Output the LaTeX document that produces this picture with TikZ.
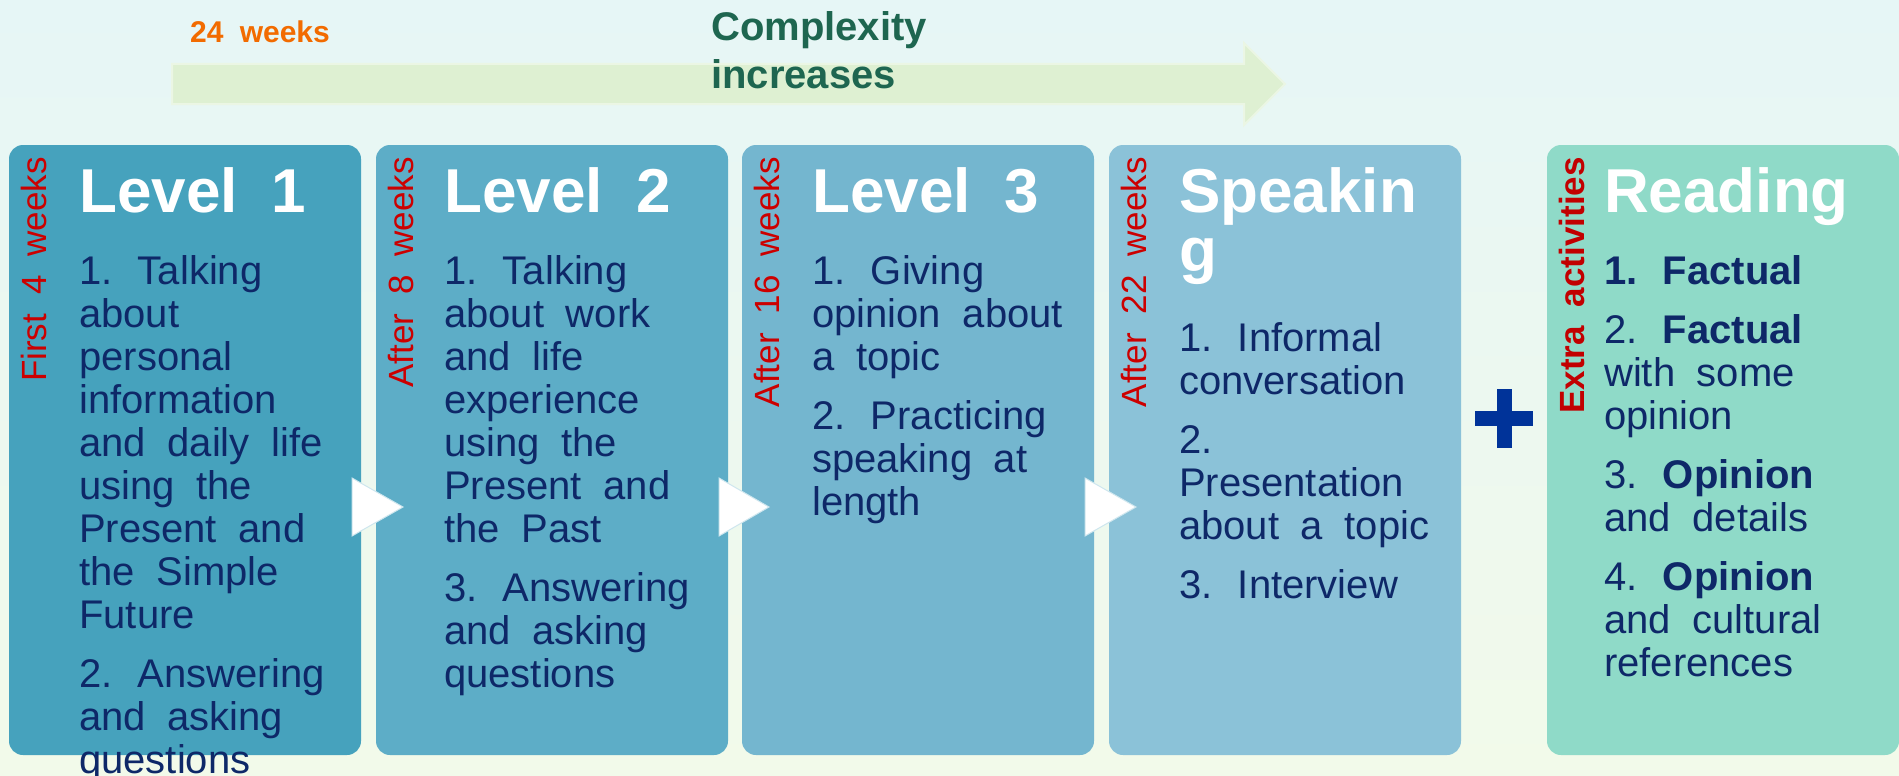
\documentclass[tikz,border=0pt]{standalone}
\usepackage{fontspec}
\setmainfont{Liberation Sans}[WordSpace=1.95]
\usepackage{xcolor}
\usetikzlibrary{positioning,calc}

\definecolor{bgtop}{RGB}{230,246,246}
\definecolor{bgmid}{RGB}{250,253,240}
\definecolor{bgbot}{RGB}{242,250,234}
\definecolor{arrowgreen}{RGB}{222,240,210}
\definecolor{lvlone}{RGB}{70,162,189}
\definecolor{lvltwo}{RGB}{93,173,199}
\definecolor{lvlthree}{RGB}{116,182,207}
\definecolor{lvlfour}{RGB}{139,194,216}
\definecolor{lvlread}{RGB}{143,218,200}
\definecolor{navy}{RGB}{14,40,104}
\definecolor{labred}{RGB}{204,0,0}
\definecolor{weekorange}{RGB}{242,107,0}
\definecolor{complgreen}{RGB}{30,102,80}
\definecolor{plusblue}{RGB}{0,51,153}

\tikzset{
  lvlbox/.style={rounded corners=14pt, minimum width=352pt, minimum height=610pt, inner sep=0pt, outer sep=0pt},
  lvltitle/.style={anchor=base west, text=white, font=\fontsize{62}{59}\selectfont\bfseries, align=left, inner sep=0pt},
  lvlbody/.style={anchor=north west, text=navy, font=\fontsize{40}{43}\selectfont, align=left, inner sep=0pt},
  weeklabel/.style={anchor=base east, rotate=90, text=labred, font=\fontsize{35}{40}\selectfont, inner sep=0pt},
  chevron/.style={fill=white, draw=white!70!lvltwo, line width=1pt},
}

\begin{document}
\begin{tikzpicture}[x=1pt,y=-1pt]
	\useasboundingbox (0,0) rectangle (1899,776);
	\shade[top color=bgtop, middle color=bgmid, bottom color=bgbot] (0,0) rectangle (1899,776);
	% complexity arrow
	\fill[arrowgreen, draw=white!40!arrowgreen, line width=2pt] (172,64) -- (1244,64) -- (1244,43) -- (1285,84) -- (1244,125) -- (1244,104) -- (172,104) -- cycle;
	\node[anchor=base west, inner sep=0pt, text=weekorange, font=\fontsize{30}{36}\selectfont\bfseries] (wk) at (190,43) {24 weeks};
	\node[anchor=north west, inner sep=0pt, align=left, text=complgreen, font=\fontsize{40}{48}\selectfont\bfseries] (cx) at (711,11) {Complexity\\increases};
	% level boxes
	\node[lvlbox, fill=lvlone] (l1) at (185,450) {};
	\node[lvlbox, fill=lvltwo, right=15pt of l1] (l2) {};
	\node[lvlbox, fill=lvlthree, right=14pt of l2] (l3) {};
	\node[lvlbox, fill=lvlfour, right=15pt of l3] (l4) {};
	\node[lvlbox, fill=lvlread, right=86pt of l4] (l5) {};
	% chevrons
	\fill[chevron] ($(l1.east)+(-9,28)$) -- ($(l2.west)+(27,57)$) -- ($(l1.east)+(-9,86)$) -- cycle;
	\fill[chevron] ($(l2.east)+(-9,28)$) -- ($(l3.west)+(27,57)$) -- ($(l2.east)+(-9,86)$) -- cycle;
	\fill[chevron] ($(l3.east)+(-9,28)$) -- ($(l4.west)+(27,57)$) -- ($(l3.east)+(-9,86)$) -- cycle;
	% plus
	\fill[plusblue] (1475,411) rectangle (1533,426);
	\fill[plusblue] (1497,389) rectangle (1512,448);
	% side labels
	\node[weeklabel] (w1) at ($(l1.north west)+(37,12)$) {First 4 weeks};
	\node[weeklabel] (w2) at ($(l2.north west)+(37,12)$) {After 8 weeks};
	\node[weeklabel] (w3) at ($(l3.north west)+(37,12)$) {After 16 weeks};
	\node[weeklabel] (w4) at ($(l4.north west)+(37,12)$) {After 22 weeks};
	\node[weeklabel, font=\fontsize{35}{40}\selectfont\bfseries, text=labred!95!black] (w5) at ($(l5.north west)+(37,12)$) {Extra activities};
	% titles
	\node[lvltitle] (t1) at ($(l1.north west)+(70,67)$) {Level 1};
	\node[lvltitle] (t2) at ($(l2.north west)+(68,67)$) {Level 2};
	\node[lvltitle] (t3) at ($(l3.north west)+(70,67)$) {Level 3};
	\node[lvltitle, anchor=north west] (t4) at ($(l4.north west)+(70,22)$) {Speakin\\g};
	\node[lvltitle] (t5) at ($(l5.north west)+(57,67)$) {Reading};
	% contents
	\node[lvlbody] (b1) at ($(l1.north west)+(70,110)$) {1. Talking\\about\\personal\\information\\and daily life\\using the\\Present and\\the Simple\\Future\\[16pt]2. Answering\\and asking\\questions};
	\node[lvlbody] (b2) at ($(l2.north west)+(68,110)$) {1. Talking\\about work\\and life\\experience\\using the\\Present and\\the Past\\[16pt]3. Answering\\and asking\\questions};
	\node[lvlbody] (b3) at ($(l3.north west)+(70,110)$) {1. Giving\\opinion about\\a topic\\[16pt]2. Practicing\\speaking at\\length};
	\node[lvlbody] (b4) at ($(l4.north west)+(70,177)$) {1. Informal\\conversation\\[16pt]2.\\Presentation\\about a topic\\[16pt]3. Interview};
	\node[lvlbody] (b5) at ($(l5.north west)+(57,110)$) {\textbf{1. Factual}\\[16pt]2. \textbf{Factual}\\with some\\opinion\\[16pt]3. \textbf{Opinion}\\and details\\[16pt]4. \textbf{Opinion}\\and cultural\\references};
\end{tikzpicture}
\end{document}
